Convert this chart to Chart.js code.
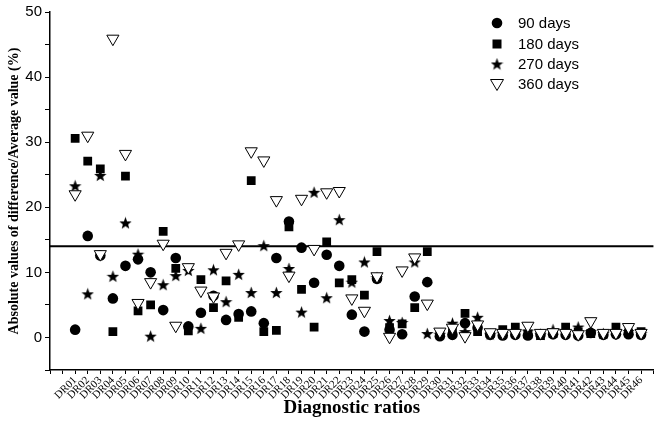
<!DOCTYPE html>
<html>
<head>
<meta charset="utf-8">
<script src="https://cdn.jsdelivr.net/npm/chart.js@4/dist/chart.umd.min.js"></script>
<style>
  html, body { margin: 0; padding: 0; background: #fff; }
  #wrap { width: 663px; height: 423px; position: relative; }
</style>
</head>
<body>
<div id="wrap"><canvas id="chart"></canvas></div>
<script>
// categories and values
const categories = ['DR01','DR02','DR03','DR04','DR05','DR06','DR07','DR08','DR09','DR10',
  'DR11','DR12','DR13','DR14','DR15','DR16','DR17','DR18','DR19','DR20',
  'DR21','DR22','DR23','DR24','DR25','DR26','DR27','DR28','DR29','DR30',
  'DR31','DR32','DR33','DR34','DR35','DR36','DR37','DR38','DR39','DR40',
  'DR41','DR42','DR43','DR44','DR45','DR46'];

const days90 = [1.2, 15.6, 12.6, 6.0, 11.0, 12.0, 10.0, 4.2, 12.2, 1.7,
  3.8, 6.4, 2.7, 3.6, 4.0, 2.2, 12.2, 17.8, 13.8, 8.4,
  12.7, 11.0, 3.5, 0.9, 9.0, 1.2, 0.5, 6.3, 8.5, 0.2,
  0.4, 2.2, 1.5, 0.4, 0.3, 0.4, 0.3, 0.4, 0.5, 0.4,
  0.3, 0.7, 0.4, 0.5, 0.5, 0.4];
const days180 = [30.6, 27.1, 25.9, 0.9, 24.8, 4.1, 5.0, 16.3, 10.6, 1.0,
  8.9, 4.6, 8.7, 3.1, 24.1, 0.9, 1.1, 17.0, 7.4, 1.6,
  14.7, 8.4, 8.9, 6.5, 13.2, 1.5, 2.1, 4.6, 13.2, 0.4,
  1.0, 3.7, 0.9, 0.6, 1.2, 1.6, 0.5, 0.3, 0.6, 1.6,
  0.8, 0.6, 0.5, 1.6, 0.7, 0.9];
const days270 = [23.3, 6.7, 24.9, 9.4, 17.6, 12.8, 0.2, 8.1, 9.5, 10.3,
  1.4, 10.4, 5.5, 9.7, 6.9, 14.1, 6.9, 10.6, 3.9, 22.3,
  6.1, 18.1, 8.5, 11.6, 9.2, 2.6, 2.3, 11.6, 0.6, 0.5,
  2.2, 0.9, 3.1, 0.5, 0.6, 0.8, 1.0, 0.5, 1.2, 0.9,
  1.6, 0.9, 0.6, 0.8, 0.9, 0.6];
const days360 = [22.0, 31.0, 12.8, 45.9, 28.2, 5.3, 8.5, 14.4, 1.8, 10.8,
  7.2, 6.3, 13.0, 14.3, 28.6, 27.2, 21.1, 9.5, 21.3, 13.6,
  22.3, 22.5, 6.0, 4.1, 9.4, 0.1, 10.3, 12.3, 5.2, 0.9,
  1.5, 0.2, 2.0, 0.8, 0.7, 0.7, 1.8, 0.7, 0.8, 0.7,
  0.5, 2.5, 0.7, 0.7, 1.6, 0.7];
const seriesNames = ['90 days', '180 days', '270 days', '360 days'];
const threshold = 14;
const yTicks = [0, 10, 20, 30, 40, 50];

// filled five-point star used as point style
function makeStar(size) {
  const c = document.createElement('canvas');
  c.width = size; c.height = size;
  const g = c.getContext('2d');
  const cx = size / 2, cy = size / 2 + 0.6, R = size / 2, r = R * 0.42;
  g.beginPath();
  for (let k = 0; k < 10; k++) {
    const rad = k % 2 === 0 ? R : r;
    const a = -Math.PI / 2 + k * Math.PI / 5;
    const px = cx + rad * Math.cos(a), py = cy + rad * Math.sin(a);
    k === 0 ? g.moveTo(px, py) : g.lineTo(px, py);
  }
  g.closePath();
  g.fillStyle = '#000';
  g.fill();
  return c;
}
const starImg = makeStar(13);

function toPoints(arr) {
  return arr.map((v, i) => ({ x: i + 1, y: v }));
}

// legend drawn inside the plot, top right
const innerLegend = {
  id: 'innerLegend',
  afterDraw(chart) {
    const ctx = chart.ctx;
    const mx = 497, tx = 518;
    const rows = [23, 44, 64, 84];
    ctx.save();
    ctx.font = '15px "Liberation Sans", Arial, sans-serif';
    ctx.textBaseline = 'middle';
    rows.forEach((y, k) => {
      ctx.fillStyle = '#000';
      ctx.strokeStyle = '#000';
      ctx.lineWidth = 1;
      if (k === 0) {
        ctx.beginPath(); ctx.arc(mx, y, 5.3, 0, Math.PI * 2); ctx.fill();
      } else if (k === 1) {
        ctx.fillRect(mx - 4.5, y - 4.5, 9, 9);
      } else if (k === 2) {
        ctx.drawImage(starImg, mx - starImg.width / 2, y - starImg.height / 2);
      } else {
        ctx.beginPath();
        ctx.moveTo(mx - 6.5, y - 4.5); ctx.lineTo(mx + 6.5, y - 4.5); ctx.lineTo(mx, y + 6.5);
        ctx.closePath();
        ctx.fillStyle = '#fff'; ctx.fill(); ctx.stroke();
      }
      ctx.fillStyle = '#000';
      ctx.fillText(seriesNames[k], tx, y + 1);
    });
    ctx.restore();
  }
};

new Chart(document.getElementById('chart'), {
  type: 'scatter',
  data: {
    datasets: [
      { label: seriesNames[0], data: toPoints(days90), pointStyle: 'circle', pointRadius: 5.3,
        backgroundColor: '#000', borderColor: '#000', borderWidth: 0, order: 4 },
      { label: seriesNames[1], data: toPoints(days180), pointStyle: 'rect', pointRadius: 6.2,
        backgroundColor: '#000', borderColor: '#000', borderWidth: 0, order: 3 },
      { label: seriesNames[2], data: toPoints(days270), pointStyle: starImg, pointRadius: 6,
        backgroundColor: '#000', borderColor: '#000', order: 2 },
      { label: seriesNames[3], data: toPoints(days360), pointStyle: 'triangle', pointRotation: 180,
        pointRadius: 7, backgroundColor: '#fff', borderColor: '#000', borderWidth: 1, order: 1 },
      { type: 'line', label: 'threshold', data: [{ x: -1, y: threshold }, { x: 47, y: threshold }],
        borderColor: '#000', borderWidth: 2, pointRadius: 0, order: 5 }
    ]
  },
  options: {
    responsive: true,
    maintainAspectRatio: false,
    animation: false,
    layout: { padding: { top: 7, right: 3, left: 0, bottom: 0 } },
    plugins: { legend: { display: false }, tooltip: { enabled: false } },
    scales: {
      x: {
        type: 'linear',
        min: -1, max: 47,
        grid: { drawOnChartArea: false, drawTicks: true, tickLength: 4, color: '#000' },
        border: { color: '#000', width: 1.5 },
        ticks: {
          stepSize: 1, autoSkip: false, minRotation: 45, maxRotation: 45, padding: 0,
          color: '#000',
          font: { family: '"Liberation Serif", "Times New Roman", serif', size: 11 },
          callback: v => (v >= 1 && v <= categories.length) ? categories[v - 1] : ''
        },
        title: {
          display: true, text: 'Diagnostic ratios', color: '#000', padding: { top: 2, bottom: 4 },
          font: { family: '"Liberation Serif", "Times New Roman", serif', size: 19, weight: 'bold' }
        },
        afterFit: s => { s.height = 53; }
      },
      y: {
        min: -5, max: 50,
        grid: { drawOnChartArea: false, drawTicks: true, tickLength: 5, color: '#000' },
        border: { color: '#000', width: 1.5 },
        ticks: {
          stepSize: 5, padding: 3, color: '#000',
          font: { family: '"Liberation Sans", Arial, sans-serif', size: 15 },
          callback: v => yTicks.includes(v) ? String(v) : ''
        },
        title: {
          display: true, text: 'Absolute values of difference/Average value (%)', color: '#000',
          padding: { top: 6, bottom: 0 },
          font: { family: '"Liberation Serif", "Times New Roman", serif', size: 14, weight: 'bold' }
        },
        afterFit: s => { s.width = 50; }
      }
    }
  },
  plugins: [innerLegend]
});
</script>
</body>
</html>
